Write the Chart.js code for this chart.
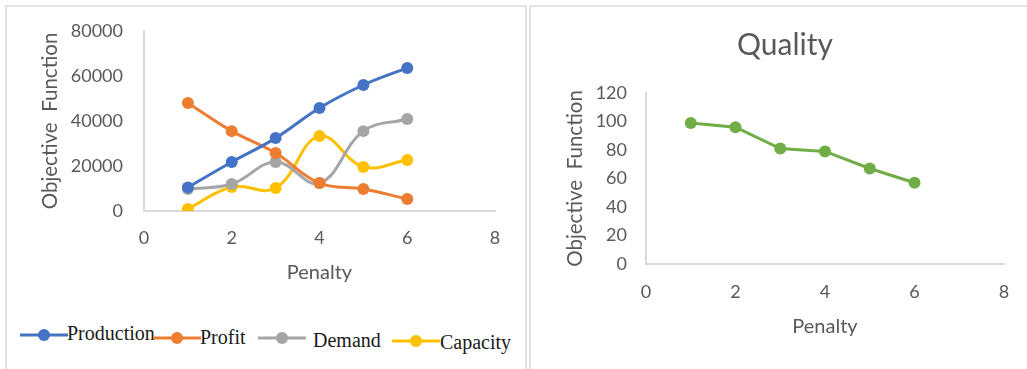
<!DOCTYPE html>
<html>
<head>
<meta charset="utf-8">
<script src="https://cdn.jsdelivr.net/npm/chart.js@4/dist/chart.umd.min.js"></script>
<style>
  html, body { margin: 0; padding: 0; background: #fff; overflow: hidden; }
  body { width: 1027px; height: 369px; position: relative; }
  .panel { position: absolute; border: 2px solid #e2e2e2; box-sizing: border-box; }
  canvas { position: absolute; }
  .legend-item { position: absolute; display: flex; align-items: center; }
  .legend-text { font-family: "Liberation Serif", serif; font-size: 20px; color: #1a1a1a; }
</style>
</head>
<body>
<div class="panel" style="left:5px; top:5px; width:522px; height:400px;"></div>
<div class="panel" style="left:529px; top:5px; width:520px; height:400px;"></div>
<canvas id="leftChart" style="left:7px; top:7px;" width="519" height="300"></canvas>
<canvas id="rightChart" style="left:531px; top:7px;" width="496" height="362"></canvas>
<div id="legend"></div>

<script>
// values
const penalty = [1, 2, 3, 4, 5, 6];
const production = [10500, 21800, 32400, 45800, 56000, 63600];
const profit = [48000, 35500, 25800, 12400, 9800, 5300];
const demand = [9800, 12000, 21800, 12400, 35500, 40900];
const capacity = [900, 10700, 10200, 33300, 19600, 22700];
const quality = [99, 96, 81, 79, 67, 57];

const seriesNames = ["Production", "Profit", "Demand", "Capacity"];
const seriesColors = ["#4472C4", "#ED7D31", "#A5A5A5", "#FFC000"];
const xTicks = [0, 2, 4, 6, 8];

const textGray = "#595959";
const axisGray = "#d9d9d9";

function toPoints(values) {
  return values.map((v, i) => ({ x: penalty[i], y: v }));
}

function lineSet(label, values, color, tension) {
  return {
    label,
    data: toPoints(values),
    borderColor: color,
    backgroundColor: color,
    borderWidth: 3,
    pointRadius: 6,
    pointHoverRadius: 6,
    pointBorderWidth: 0,
    tension
  };
}

// shared axis config, sizes fixed with afterFit so the plot lands where the reference has it
function makeScales(opts) {
  return {
    x: {
      type: "linear",
      min: 0, max: 8,
      afterBuildTicks: axis => { axis.ticks = xTicks.map(v => ({ value: v })); },
      afterFit: axis => { axis.height = opts.xHeight; },
      grid: { display: false, drawTicks: false },
      border: { display: true, color: axisGray, width: 2 },
      ticks: { color: textGray, font: { family: "Lato", size: 18 }, padding: opts.xTickPad },
      title: { display: true, text: "Penalty", color: textGray,
               font: { family: "Lato", size: 20 }, padding: { top: 0, bottom: opts.xTitlePad } }
    },
    y: {
      min: 0, max: opts.yMax,
      ticks: { stepSize: opts.yStep, color: textGray, font: { family: "Lato", size: 18 },
               padding: opts.yTickPad, callback: v => String(v) },
      afterFit: axis => {
        axis.width = opts.yWidth;
        // big tick padding would otherwise push the plot top down
        axis.paddingTop = 10;
        axis.paddingBottom = 10;
      },
      grid: { display: false, drawTicks: false },
      border: { display: true, color: axisGray, width: 2 },
      title: { display: true, text: "Objective  Function", color: textGray,
               font: { family: "Lato", size: 20.5, lineHeight: 1 }, padding: { top: opts.yTitlePad, bottom: 0 } }
    }
  };
}

const allSeries = [production, profit, demand, capacity];

new Chart(document.getElementById("leftChart"), {
  type: "line",
  data: {
    datasets: allSeries.map((vals, i) => lineSet(seriesNames[i], vals, seriesColors[i], 0.4))
  },
  options: {
    responsive: false,
    animation: false,
    layout: { padding: { top: 24, right: 31, bottom: 0, left: 0 } },
    plugins: { legend: { display: false }, tooltip: { enabled: false } },
    scales: makeScales({
      xHeight: 96, xTickPad: 16, xTitlePad: 22,
      yMax: 80000, yStep: 20000, yWidth: 137, yTickPad: 21, yTitlePad: 33
    })
  }
});

new Chart(document.getElementById("rightChart"), {
  type: "line",
  data: {
    datasets: [lineSet("Quality", quality, "#70AD47", 0)]
  },
  options: {
    responsive: false,
    animation: false,
    // left padding pushes the centred title to where the original has it
    layout: { padding: { top: 0, right: 23, bottom: 0, left: 35 } },
    plugins: {
      legend: { display: false },
      tooltip: { enabled: false },
      title: { display: true, text: "Quality", color: textGray,
               font: { family: "Lato", size: 30, weight: "normal" },
               padding: { top: 20, bottom: 30 } }
    },
    scales: makeScales({
      xHeight: 105, xTickPad: 17, xTitlePad: 30,
      yMax: 120, yStep: 20, yWidth: 80, yTickPad: 19, yTitlePad: -1
    })
  }
});

// legend under the left chart, line + dot marker like the original
const legendSpots = [
  { marker: [20, 335], text: [67, 333] },
  { marker: [153, 338], text: [200, 337] },
  { marker: [258, 338], text: [313, 340] },
  { marker: [392, 341], text: [440, 342] }
];
const legend = document.getElementById("legend");
seriesNames.forEach((name, i) => {
  const spot = legendSpots[i];
  const m = document.createElement("div");
  m.className = "legend-item";
  m.style.left = spot.marker[0] + "px";
  m.style.top = (spot.marker[1] - 7) + "px";
  m.innerHTML = `<svg width="48" height="14"><line x1="0" y1="7" x2="48" y2="7" stroke="${seriesColors[i]}" stroke-width="3"/><circle cx="24" cy="7" r="6" fill="${seriesColors[i]}"/></svg>`;
  legend.appendChild(m);
  const t = document.createElement("div");
  t.className = "legend-item legend-text";
  t.style.left = spot.text[0] + "px";
  t.style.top = (spot.text[1] - 12) + "px";
  t.style.height = "24px";
  t.textContent = name;
  legend.appendChild(t);
});
</script>
</body>
</html>
